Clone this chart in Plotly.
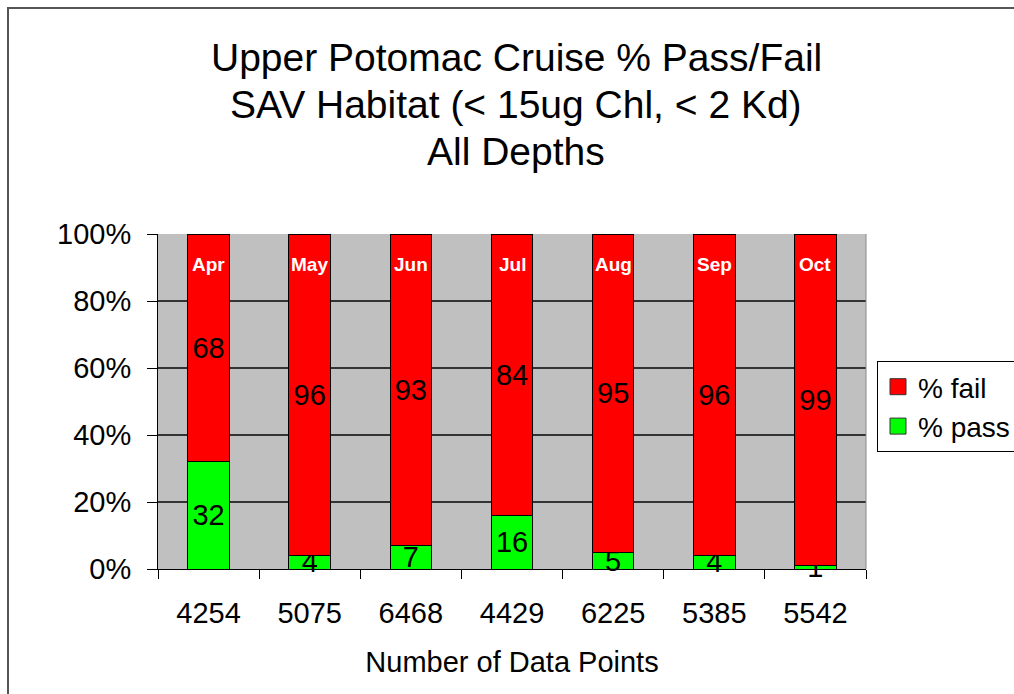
import plotly.graph_objects as go

# Cruise months and number of data points per cruise
months = ["Apr", "May", "Jun", "Jul", "Aug", "Sep", "Oct"]
n_points = ["4254", "5075", "6468", "4429", "6225", "5385", "5542"]

# Percent of samples passing / failing the SAV habitat criteria
pct_pass = [32, 4, 7, 16, 5, 4, 1]
pct_fail = [68, 96, 93, 84, 95, 96, 99]

FONT = "Liberation Sans, Arial, sans-serif"
W, H = 1014, 694
L, R, T, B = 158, 148, 234, 125
pw, ph = W - L - R, H - T - B

RED, GREEN = "#ff0000", "#00ff00"
FS = 29


def px_x(x):
    return (x - L) / pw


def px_y(y):
    return (H - B - y) / ph


fig = go.Figure()

label_font = dict(family=FONT, size=FS, color="#000000")
fig.add_trace(go.Bar(
    x=n_points, y=pct_pass, name="% pass", showlegend=False,
    marker=dict(color=GREEN, line=dict(color="#000000", width=1)),
    text=pct_pass, texttemplate="%{text}", textposition="inside",
    insidetextanchor="middle", constraintext="none", textangle=0,
    textfont=label_font, cliponaxis=False,
))
fig.add_trace(go.Bar(
    x=n_points, y=pct_fail, name="% fail", showlegend=False,
    marker=dict(color=RED, line=dict(color="#000000", width=1)),
    text=pct_fail, texttemplate="%{text}", textposition="inside",
    insidetextanchor="middle", constraintext="none", textangle=0,
    textfont=label_font, cliponaxis=False,
))

# Legend entries with larger square swatches
for name, col, grp in [("% fail", RED, "f"), ("% pass", GREEN, "p")]:
    fig.add_trace(go.Scatter(
        x=[None], y=[None], mode="markers", name=name, legendgroup=grp,
        marker=dict(symbol="square", size=16, color=col,
                    line=dict(color="#333333", width=1)),
    ))

# Month names in white at the top of each bar (category index positions)
for i, m in enumerate(months):
    fig.add_annotation(
        x=i, y=91, text=f"<b>{m}</b>", showarrow=False,
        font=dict(family=FONT, size=19, color="#ffffff"),
        xref="x", yref="y",
    )

# Title lines
title_lines = [
    "Upper Potomac Cruise % Pass/Fail",
    "SAV Habitat (< 15ug Chl, < 2 Kd)",
    "All Depths",
]
for i, line in enumerate(title_lines):
    fig.add_annotation(
        x=px_x(516), y=px_y(57 + 47 * i), text=line, showarrow=False,
        xref="paper", yref="paper", xanchor="center", yanchor="middle",
        font=dict(family=FONT, size=39, color="#000000"),
    )

# Outer frame around the figure
fig.add_shape(
    type="rect", xref="paper", yref="paper",
    x0=px_x(8), x1=px_x(W + 20), y0=px_y(H + 20), y1=px_y(8),
    line=dict(color="#555555", width=2), fillcolor="rgba(0,0,0,0)", layer="below",
)
# Right edge of the plot area
fig.add_shape(
    type="line", xref="paper", yref="paper", x0=1, x1=1, y0=0, y1=1,
    line=dict(color="#8a8a8a", width=1),
)

fig.update_layout(
    width=W, height=H,
    margin=dict(l=L, r=R, t=T, b=B, autoexpand=False),
    barmode="stack", bargap=0.59,
    plot_bgcolor="#c0c0c0", paper_bgcolor="#ffffff",
    font=dict(family=FONT, size=FS, color="#000000"),
    showlegend=True,
    legend=dict(
        x=px_x(877), y=px_y(361), xanchor="left", yanchor="top",
        bordercolor="#000000", borderwidth=1,
        bgcolor="#ffffff", font=dict(family=FONT, size=28),
        tracegroupgap=0, itemwidth=30,
    ),
    xaxis=dict(
        type="category", tickson="boundaries", ticks="outside", ticklen=9,
        tickcolor="#000000", showline=True, linecolor="#000000", linewidth=1,
        showgrid=False, tickfont=dict(family=FONT, size=FS), tickangle=0,
        ticklabelstandoff=18,
        title=dict(text="Number of Data Points", font=dict(family=FONT, size=FS), standoff=23),
    ),
    yaxis=dict(
        range=[0, 100], dtick=20, ticksuffix="%", ticks="outside", ticklen=10,
        tickcolor="#000000", showline=True, linecolor="#000000", linewidth=1,
        showgrid=True, gridcolor="#333333", gridwidth=1.5, zeroline=False,
        tickfont=dict(family=FONT, size=FS), ticklabelstandoff=10,
    ),
)

fig.write_html("out.html")
